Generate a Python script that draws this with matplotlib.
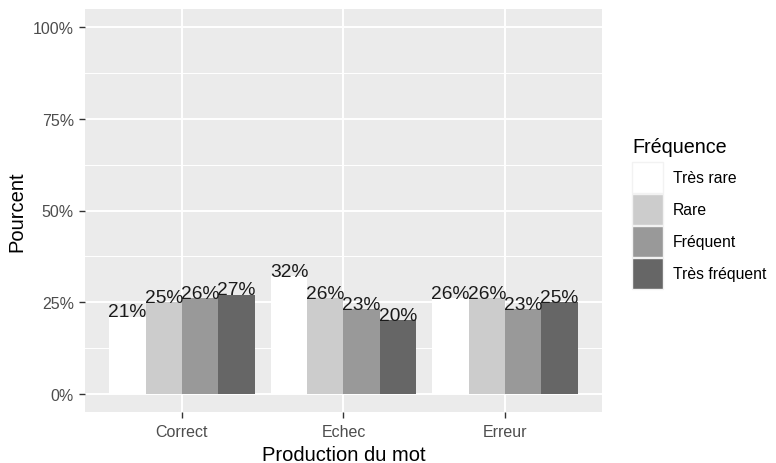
import matplotlib
matplotlib.use("Agg")
import matplotlib.pyplot as plt
import numpy as np
from matplotlib.patches import Rectangle

categories = ["Correct", "Echec", "Erreur"]
series = ["Très rare", "Rare", "Fréquent", "Très fréquent"]
values = {
    "Très rare":     [0.21, 0.32, 0.26],
    "Rare":          [0.25, 0.26, 0.26],
    "Fréquent":      [0.26, 0.23, 0.23],
    "Très fréquent": [0.27, 0.20, 0.25],
}
colors = ["#FFFFFF", "#CCCCCC", "#999999", "#666666"]
yticks = [0, 0.25, 0.5, 0.75, 1.0]
yticklabels = ["0%", "25%", "50%", "75%", "100%"]

plt.rcParams['font.family'] = ['Liberation Sans', 'DejaVu Sans']

W, H = 776, 464
fig = plt.figure(figsize=(W/100, H/100), dpi=100)
L, R, T, B = 85, 602, 10, 413
ax = fig.add_axes([L/W, 1 - B/H, (R-L)/W, (B-T)/H])
ax.set_facecolor("#EBEBEB")

x = np.arange(1, len(categories) + 1)
n = len(series)
group_w = 0.9
bw = group_w / n

# grid
for yv in [0.125, 0.375, 0.625, 0.875]:
    ax.axhline(yv, color="white", lw=0.7, zorder=0)
for yv in yticks:
    ax.axhline(yv, color="white", lw=1.4, zorder=0)
for xv in x:
    ax.axvline(xv, color="white", lw=1.4, zorder=0)

for i, s in enumerate(series):
    pos = x - group_w / 2 + bw * (i + 0.5)
    ax.bar(pos, values[s], width=bw, color=colors[i], zorder=2, linewidth=0)
    for px, v in zip(pos, values[s]):
        ax.text(px, v + 0.001, f"{v*100:.0f}%", ha="center", va="baseline",
                fontsize=13.8, color="#1a1a1a", zorder=3)

ax.set_xlim(0.4, 3.6)
ax.set_ylim(-0.05, 1.05)
ax.set_xticks(x)
ax.set_xticklabels(categories)
ax.set_yticks(yticks)
ax.set_yticklabels(yticklabels)
ax.tick_params(axis="both", colors="#333333", labelcolor="#4D4D4D", labelsize=11.5,
               length=4, width=1.0, pad=4)
ax.tick_params(axis="x", pad=5)
for sp in ax.spines.values():
    sp.set_visible(False)

fig.text(((L + R) / 2) / W, 1 - 456/H, "Production du mot", ha="center", va="center",
         fontsize=14.5, color="black")
fig.text(17/W, 1 - ((T + B) / 2) / H, "Pourcent", ha="center", va="center",
         rotation=90, fontsize=14.5, color="black")

# legend (drawn in figure pixel coordinates)
fig.text(632/W, 1 - 147.5/H, "Fréquence", ha="left", va="center",
         fontsize=14.2, color="black")
key_x, key_top, key_size, key_pitch = 632, 163, 31, 32
for i, (s, c) in enumerate(zip(series, colors)):
    top = key_top + i * key_pitch
    fig.patches.append(Rectangle((key_x/W, 1 - (top + key_size)/H), key_size/W, key_size/H,
                                 transform=fig.transFigure, facecolor=c,
                                 edgecolor="#F2F2F2", linewidth=1.0))
    fig.text(673/W, 1 - (top + key_size/2)/H, s, ha="left", va="center",
             fontsize=11.3, color="black")

fig.savefig("out.png", dpi=100)
